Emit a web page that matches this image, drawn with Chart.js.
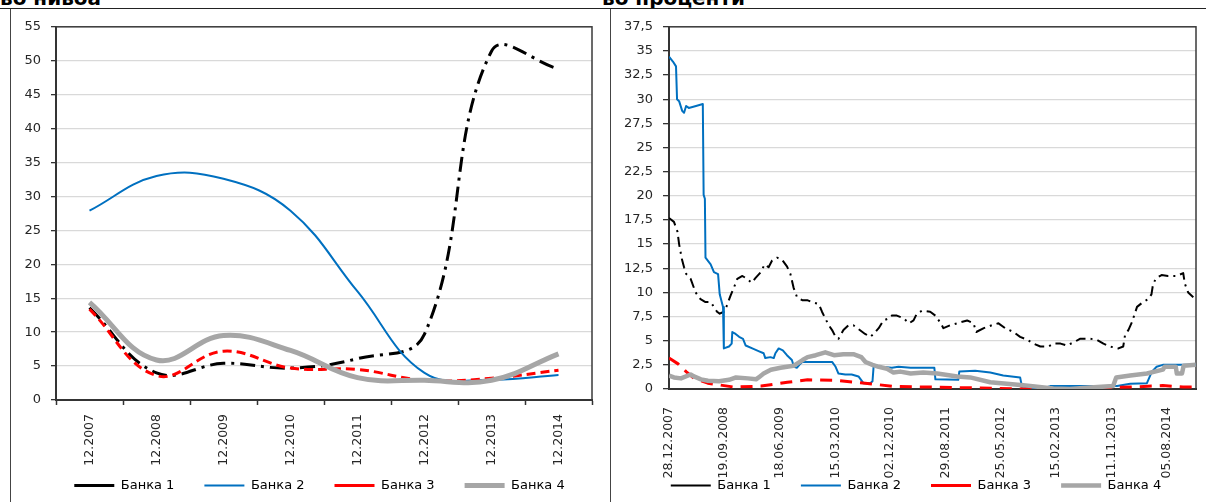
<!DOCTYPE html>
<html lang="mk">
<head>
<meta charset="UTF-8">
<title>Банки - нивоа и проценти</title>
<script src="https://cdn.jsdelivr.net/npm/chart.js"></script>
<style>
    html, body {
        margin: 0;
        padding: 0;
        width: 1206px;
        height: 502px;
        overflow: hidden;
        background: #fff;
        font-family: "DejaVu Sans", sans-serif;
    }
    .title {
        position: absolute;
        top: -12px;
        font-size: 20px;
        font-weight: bold;
        line-height: 20px;
        white-space: nowrap;
        color: #000;
    }
    .line-top {
        position: absolute;
        left: 0;
        top: 8px;
        width: 1206px;
        border-top: 1.5px solid #222;
    }
    .line-v {
        position: absolute;
        top: 9px;
        height: 493px;
        border-left: 1.5px solid #444;
    }
    .box {
        position: absolute;
        top: 9px;
    }
</style>
</head>
<body>

<div class="title" style="left:0px">во нивоа</div>
<div class="title" style="left:602px">во проценти</div>
<div class="line-top"></div>
<div class="line-v" style="left:10px"></div>
<div class="line-v" style="left:610px"></div>

<div class="box" style="left:11px"><canvas id="levels" width="589" height="523"></canvas></div>
<div class="box" style="left:612px"><canvas id="percents" width="594" height="523"></canvas></div>

<script>
// left chart: yearly levels (December of each year)
const leftLabels = ['12.2007', '12.2008', '12.2009', '12.2010', '12.2011', '12.2012', '12.2013', '12.2014'];
const bank1Levels = [13.6, 4.0, 5.4, 4.7, 6.1, 9.7, 51.4, 48.8];
const bank2Levels = [27.9, 33.0, 32.6, 27.9, 16.0, 4.0, 3.0, 3.7];
const bank3Levels = [13.4, 3.6, 7.2, 4.7, 4.5, 2.9, 3.2, 4.4];
const bank4Levels = [14.4, 5.9, 9.5, 7.3, 3.3, 2.9, 2.9, 6.8];

const rightTickDates = ['2007-12-28', '2008-09-19', '2009-06-18', '2010-03-15', '2010-12-02',
    '2011-08-29', '2012-05-25', '2013-02-15', '2013-11-11', '2014-08-05'];
const rightStart = '2007-12-28';
const rightEnd = '2014-12-27';

const bank1Pct = [
    ['2007-12-28', 17.7], ['2008-01-21', 17.3], ['2008-02-07', 16.3], ['2008-02-15', 15.0], ['2008-02-29', 13.4],
    ['2008-03-10', 12.6], ['2008-03-21', 11.9], ['2008-04-11', 11.4], ['2008-05-05', 10.0], ['2008-05-29', 9.3],
    ['2008-06-22', 9.0], ['2008-07-17', 9.0], ['2008-08-02', 8.5], ['2008-08-17', 8.0], ['2008-08-30', 7.8],
    ['2008-09-19', 8.0], ['2008-10-03', 8.6], ['2008-10-22', 9.7], ['2008-11-07', 10.5], ['2008-11-23', 11.4],
    ['2008-12-18', 11.7], ['2009-01-10', 11.4], ['2009-02-01', 11.0], ['2009-02-20', 11.5], ['2009-03-17', 12.1],
    ['2009-04-05', 12.9], ['2009-04-24', 12.6], ['2009-05-11', 13.3], ['2009-06-04', 13.6], ['2009-06-28', 13.4],
    ['2009-07-22', 12.7], ['2009-08-08', 11.9], ['2009-08-23', 10.5], ['2009-09-09', 9.5], ['2009-10-04', 9.2],
    ['2009-10-28', 9.2], ['2009-11-20', 9.0], ['2009-12-24', 8.8], ['2010-01-08', 8.0], ['2010-01-24', 7.3],
    ['2010-02-10', 6.6], ['2010-02-26', 6.1], ['2010-03-15', 5.4], ['2010-03-29', 5.2], ['2010-04-22', 6.1],
    ['2010-05-17', 6.6], ['2010-06-09', 6.6], ['2010-07-04', 6.2], ['2010-08-05', 5.7], ['2010-08-30', 5.4],
    ['2010-09-15', 5.7], ['2010-10-10', 6.3], ['2010-11-02', 7.1], ['2010-11-27', 7.3], ['2010-12-13', 7.6],
    ['2011-01-06', 7.6], ['2011-02-09', 7.3], ['2011-03-06', 6.8], ['2011-03-28', 7.1], ['2011-04-13', 7.8],
    ['2011-05-08', 8.1], ['2011-06-17', 8.0], ['2011-07-12', 7.6], ['2011-08-04', 6.9], ['2011-08-20', 6.3],
    ['2011-09-22', 6.6], ['2011-10-25', 6.8], ['2011-12-13', 7.1], ['2012-01-13', 6.8], ['2012-01-26', 5.9],
    ['2012-03-03', 6.3], ['2012-04-11', 6.6], ['2012-05-13', 6.8], ['2012-06-14', 6.3], ['2012-07-25', 5.9],
    ['2012-08-26', 5.4], ['2012-09-29', 5.1], ['2012-10-30', 4.7], ['2012-12-02', 4.4], ['2013-01-11', 4.4],
    ['2013-02-05', 4.7], ['2013-03-10', 4.7], ['2013-04-09', 4.5], ['2013-05-19', 4.9], ['2013-06-12', 5.2],
    ['2013-07-31', 5.2], ['2013-09-02', 5.1], ['2013-10-04', 4.7], ['2013-11-05', 4.4], ['2013-12-16', 4.2],
    ['2014-01-08', 4.4], ['2014-01-17', 5.6], ['2014-02-02', 6.1], ['2014-02-19', 6.9], ['2014-03-16', 8.5],
    ['2014-04-14', 9.0], ['2014-05-09', 9.3], ['2014-05-25', 9.8], ['2014-06-02', 10.9], ['2014-06-18', 11.5],
    ['2014-07-13', 11.8], ['2014-08-13', 11.7], ['2014-09-23', 11.7], ['2014-10-26', 12.0], ['2014-11-03', 10.9],
    ['2014-11-19', 10.0], ['2014-12-14', 9.5]
];
const bank2Pct = [
    ['2007-12-28', 34.4], ['2008-01-16', 33.9], ['2008-01-31', 33.4], ['2008-02-05', 30.0], ['2008-02-15', 29.8],
    ['2008-03-01', 28.8], ['2008-03-10', 28.6], ['2008-03-20', 29.3], ['2008-04-02', 29.1], ['2008-05-07', 29.3],
    ['2008-06-09', 29.5], ['2008-06-13', 20.1], ['2008-06-19', 19.7], ['2008-06-22', 13.6], ['2008-07-17', 12.9],
    ['2008-08-02', 12.1], ['2008-08-22', 11.9], ['2008-08-30', 9.8], ['2008-09-15', 8.5], ['2008-09-19', 4.2],
    ['2008-10-14', 4.4], ['2008-10-27', 4.7], ['2008-10-30', 5.9], ['2008-11-15', 5.7], ['2008-12-02', 5.4],
    ['2008-12-21', 5.2], ['2009-01-03', 4.5], ['2009-02-04', 4.2], ['2009-03-09', 3.9], ['2009-03-31', 3.7],
    ['2009-04-08', 3.2], ['2009-05-03', 3.3], ['2009-05-19', 3.2], ['2009-05-27', 3.7], ['2009-06-12', 4.2],
    ['2009-07-02', 4.0], ['2009-07-22', 3.5], ['2009-08-15', 3.0], ['2009-08-25', 2.3], ['2009-09-09', 2.2],
    ['2009-09-20', 2.5], ['2009-10-04', 2.8], ['2010-02-26', 2.8], ['2010-03-15', 2.3], ['2010-03-29', 1.6],
    ['2010-05-01', 1.5], ['2010-06-01', 1.5], ['2010-07-04', 1.3], ['2010-07-28', 0.6], ['2010-08-30', 0.6],
    ['2010-09-10', 0.8], ['2010-09-16', 2.5], ['2010-10-25', 2.3], ['2010-12-13', 2.2], ['2011-01-14', 2.3],
    ['2011-03-14', 2.2], ['2011-07-07', 2.2], ['2011-07-12', 1.0], ['2011-10-31', 0.95], ['2011-11-05', 1.8],
    ['2012-01-21', 1.9], ['2012-04-03', 1.7], ['2012-06-05', 1.4], ['2012-08-26', 1.2], ['2012-09-05', 0.1],
    ['2012-12-02', 0.0], ['2013-01-19', 0.3], ['2013-12-09', 0.3], ['2014-02-11', 0.55], ['2014-05-03', 0.6],
    ['2014-05-27', 1.8], ['2014-06-19', 2.3], ['2014-07-19', 2.5], ['2014-12-26', 2.5]
];
const bank3Pct = [
    ['2007-12-28', 3.2], ['2008-02-10', 2.6], ['2008-03-20', 1.8], ['2008-04-27', 1.1], ['2008-07-03', 0.6],
    ['2008-11-07', 0.2], ['2009-03-19', 0.3], ['2009-07-24', 0.7], ['2009-10-30', 0.95], ['2010-03-07', 0.9],
    ['2010-07-14', 0.65], ['2010-12-21', 0.27], ['2011-06-17', 0.2], ['2012-02-15', 0.1], ['2012-10-15', 0.0],
    ['2013-06-12', 0.05], ['2014-02-11', 0.2], ['2014-07-19', 0.35], ['2014-10-25', 0.2], ['2014-12-26', 0.2]
];
const bank4Pct = [
    ['2007-12-28', 1.4], ['2008-01-21', 1.2], ['2008-02-24', 1.1], ['2008-04-11', 1.5], ['2008-04-27', 1.3],
    ['2008-05-31', 1.0], ['2008-07-04', 0.85], ['2008-08-27', 0.8], ['2008-10-14', 0.95], ['2008-11-17', 1.2],
    ['2009-01-14', 1.1], ['2009-02-22', 1.0], ['2009-03-07', 1.2], ['2009-03-31', 1.6], ['2009-05-05', 2.0],
    ['2009-06-21', 2.2], ['2009-08-23', 2.4], ['2009-10-06', 3.0], ['2009-10-30', 3.3], ['2009-12-09', 3.5],
    ['2010-01-24', 3.8], ['2010-03-07', 3.5], ['2010-04-22', 3.6], ['2010-06-09', 3.6], ['2010-07-18', 3.3],
    ['2010-08-07', 2.8], ['2010-09-10', 2.5], ['2010-10-10', 2.3], ['2010-11-20', 2.1], ['2010-12-21', 1.7],
    ['2011-01-23', 1.8], ['2011-03-14', 1.6], ['2011-05-14', 1.7], ['2011-07-21', 1.6], ['2011-10-26', 1.3],
    ['2011-12-28', 1.2], ['2012-04-03', 0.7], ['2012-09-10', 0.4], ['2013-02-03', 0.05], ['2013-04-24', 0.0],
    ['2013-07-31', 0.15], ['2013-11-20', 0.3], ['2013-12-05', 1.2], ['2014-02-11', 1.4], ['2014-05-03', 1.6],
    ['2014-07-19', 2.0], ['2014-07-28', 2.3], ['2014-09-20', 2.3], ['2014-09-25', 1.6], ['2014-10-20', 1.6],
    ['2014-10-28', 2.4], ['2014-12-26', 2.5]
];

const seriesNames = ['Банка 1', 'Банка 2', 'Банка 3', 'Банка 4'];

Chart.defaults.font.family = '"DejaVu Sans", Verdana, sans-serif';
Chart.defaults.font.size = 13;
Chart.defaults.color = '#262626';

// date string -> day number
function toDay(s) {
    const p = s.split('-').map(Number);
    return Date.UTC(p[0], p[1] - 1, p[2]) / 86400000;
}
function toPoints(list) {
    return list.map(([d, v]) => ({ x: toDay(d), y: v }));
}

// frame around the plot area, like the Excel plot area border
const plotFrame = {
    id: 'plotFrame',
    beforeDatasetsDraw(chart) {
        const a = chart.chartArea;
        const ctx = chart.ctx;
        ctx.save();
        ctx.strokeStyle = '#3a3a3a';
        ctx.lineWidth = 1.5;
        ctx.strokeRect(a.left, a.top, a.right - a.left, a.bottom - a.top);
        ctx.restore();
    }
};

// move the legend row (the x axis box keeps the room its rotated labels need)
const legendShift = {
    id: 'legendShift',
    afterLayout(chart, args, opts) {
        const lg = chart.legend;
        if (!lg) return;
        lg.left += opts.dx || 0;
        lg.right += opts.dx || 0;
        lg.top += opts.dy || 0;
        lg.bottom += opts.dy || 0;
    }
};

function legendOptions() {
    return {
        position: 'bottom',
        labels: {
            usePointStyle: true,
            pointStyle: 'line',
            pointStyleWidth: 40,
            padding: 30,
            color: '#000',
            font: { size: 13 },
            sort: (a, b) => a.datasetIndex - b.datasetIndex
        }
    };
}

const axisBorder = { display: true, color: '#262626', width: 2 };

// ---------- left chart ----------
new Chart(document.getElementById('levels'), {
    type: 'line',
    data: {
        labels: leftLabels,
        datasets: [
            { label: seriesNames[0], data: bank1Levels, borderColor: '#000', borderWidth: 3,
              borderDash: [15, 6, 3, 6], order: 3 },
            { label: seriesNames[1], data: bank2Levels, borderColor: '#0070c0', borderWidth: 2, order: 2 },
            { label: seriesNames[2], data: bank3Levels, borderColor: '#ff0000', borderWidth: 3,
              borderDash: [9, 5], order: 1 },
            { label: seriesNames[3], data: bank4Levels, borderColor: '#a6a6a6', borderWidth: 5, order: 0 }
        ]
    },
    options: {
        responsive: false,
        animation: false,
        layout: { padding: { top: 13, right: 8, left: 0, bottom: 0 } },
        elements: {
            point: { radius: 0 },
            line: { tension: 0.4, fill: false, backgroundColor: 'transparent' }
        },
        plugins: {
            legend: legendOptions(),
            legendShift: { dx: 18, dy: -30 },
            tooltip: { enabled: false }
        },
        scales: {
            x: {
                type: 'category',
                offset: true,
                grid: { offset: true, drawOnChartArea: false, tickLength: 5, tickColor: '#333', tickWidth: 1.5 },
                border: axisBorder,
                ticks: { minRotation: 90, maxRotation: 90, autoSkip: false, padding: 9, font: { size: 12.5 } },
                afterFit(s) { s.height = 79; }
            },
            y: {
                min: 0,
                max: 55,
                ticks: { stepSize: 5, padding: 10, font: { size: 13 } },
                grid: { color: '#d9d9d9', lineWidth: 1.3, tickLength: 5, tickColor: '#333' },
                border: axisBorder,
                afterFit(s) { s.width = 45; }
            }
        }
    },
    plugins: [plotFrame, legendShift]
});

// ---------- right chart ----------
new Chart(document.getElementById('percents'), {
    type: 'line',
    data: {
        datasets: [
            { label: seriesNames[0], data: toPoints(bank1Pct), borderColor: '#000', borderWidth: 2,
              borderDash: [10, 5, 2, 5], order: 3 },
            { label: seriesNames[1], data: toPoints(bank2Pct), borderColor: '#0070c0', borderWidth: 2, order: 2 },
            { label: seriesNames[2], data: toPoints(bank3Pct), borderColor: '#ff0000', borderWidth: 3,
              borderDash: [12, 8], order: 1 },
            { label: seriesNames[3], data: toPoints(bank4Pct), borderColor: '#a6a6a6', borderWidth: 4.5, order: 0 }
        ]
    },
    options: {
        responsive: false,
        animation: false,
        layout: { padding: { top: 13, right: 10, left: 0, bottom: 0 } },
        elements: {
            point: { radius: 0 },
            line: { tension: 0, fill: false, backgroundColor: 'transparent', borderJoinStyle: 'round' }
        },
        plugins: {
            legend: legendOptions(),
            legendShift: { dx: 12, dy: -30 },
            tooltip: { enabled: false }
        },
        scales: {
            x: {
                type: 'linear',
                min: toDay(rightStart),
                max: toDay(rightEnd),
                afterBuildTicks(s) {
                    s.ticks = rightTickDates.map(d => ({ value: toDay(d) }));
                },
                grid: { drawOnChartArea: false, drawTicks: false },
                border: axisBorder,
                ticks: {
                    minRotation: 90,
                    maxRotation: 90,
                    autoSkip: false,
                    padding: 18,
                    font: { size: 12.5 },
                    callback: (v, i) => rightTickDates[i].split('-').reverse().join('.')
                },
                afterFit(s) { s.height = 90; }
            },
            y: {
                min: 0,
                max: 37.5,
                ticks: {
                    stepSize: 2.5,
                    padding: 10,
                    font: { size: 13 },
                    callback: v => String(v).replace('.', ',')
                },
                grid: { color: '#d9d9d9', lineWidth: 1.3, tickLength: 6, tickColor: '#333' },
                border: axisBorder,
                afterFit(s) { s.width = 57; }
            }
        }
    },
    plugins: [plotFrame, legendShift]
});
</script>

</body>
</html>
